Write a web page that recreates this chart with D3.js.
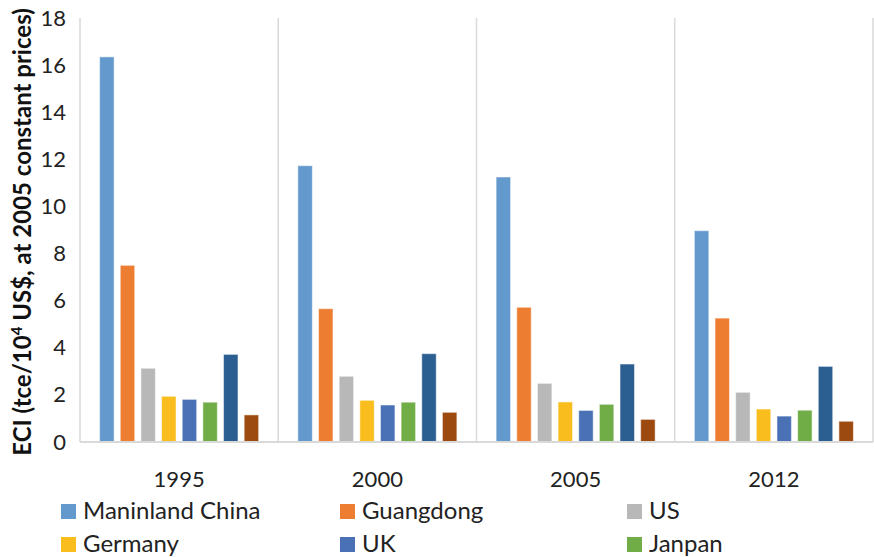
<!DOCTYPE html>
<html>
<head>
<meta charset="utf-8">
<script src="https://cdn.jsdelivr.net/npm/d3@7"></script>
<style>
  html, body { margin: 0; padding: 0; background: #fff; }
  svg { display: block; }
</style>
</head>
<body>
<svg id="chart" width="874" height="557"></svg>
<script>
// Energy consumption intensity by region and year
const years = ["1995", "2000", "2005", "2012"];
const yTicks = [0, 2, 4, 6, 8, 10, 12, 14, 16, 18];

const chinaVals     = [16.35, 11.73, 11.25, 8.97];
const guangdongVals = [7.50, 5.66, 5.72, 5.26];
const usVals        = [3.13, 2.79, 2.49, 2.11];
const germanyVals   = [1.94, 1.77, 1.70, 1.40];
const ukVals        = [1.81, 1.57, 1.34, 1.10];
const japanVals     = [1.69, 1.69, 1.60, 1.35];
const seventhVals   = [3.72, 3.75, 3.31, 3.21];
const eighthVals    = [1.15, 1.26, 0.96, 0.88];

const seriesValues = [chinaVals, guangdongVals, usVals, germanyVals, ukVals, japanVals, seventhVals, eighthVals];
const seriesColors = ["#6399CC", "#ED7D31", "#B8B8B8", "#F9BE1E", "#4A70B6", "#70AD47", "#2C5F91", "#9C4A10"];

// Legend entries in the order they are laid out (row by row, three columns)
const legendLabels = ["Maninland China", "Guangdong", "US", "Germany", "UK", "Janpan"];
const legendColors = ["#6399CC", "#ED7D31", "#B8B8B8", "#F9BE1E", "#4A70B6", "#70AD47"];

const svg = d3.select("#chart");
const font = "Lato, 'Open Sans', sans-serif";

const plot = { left: 80, right: 873, top: 18, bottom: 442 };

const x0 = d3.scaleBand().domain(years).range([plot.left, plot.right]).padding(0);
const x1 = d3.scaleBand()
  .domain(d3.range(seriesValues.length))
  .range([0, x0.bandwidth()])
  .paddingInner(0.3)
  .paddingOuter(0.95);
const y = d3.scaleLinear().domain([0, 18]).range([plot.bottom, plot.top]);

// Category separators
const seps = years.map(d => x0(d)).concat([plot.right]);
svg.append("g").selectAll("line").data(seps).join("line")
  .attr("x1", d => d).attr("x2", d => d)
  .attr("y1", plot.top).attr("y2", plot.bottom)
  .attr("stroke", "#D9D9D9").attr("stroke-width", 1.5);

// Bars
const groups = svg.append("g").selectAll("g").data(years).join("g")
  .attr("transform", d => `translate(${x0(d)},0)`);
groups.selectAll("rect")
  .data((yr, gi) => seriesValues.map((vals, si) => ({ si, v: vals[gi] })))
  .join("rect")
  .attr("x", d => x1(d.si))
  .attr("width", x1.bandwidth())
  .attr("y", d => y(d.v))
  .attr("height", d => y(0) - y(d.v))
  .attr("fill", d => seriesColors[d.si])
  .attr("stroke", "#ffffff").attr("stroke-opacity", 0.5).attr("stroke-width", 1);

// Baseline
svg.append("line")
  .attr("x1", plot.left).attr("x2", plot.right)
  .attr("y1", y(0)).attr("y2", y(0))
  .attr("stroke", "#D9D9D9").attr("stroke-width", 2);

// Y axis labels
const yAxis = d3.axisLeft(y).tickValues(yTicks).tickSize(0).tickPadding(14);
const yg = svg.append("g").attr("transform", `translate(${plot.left},0)`).call(yAxis);
yg.select(".domain").remove();
yg.selectAll("text").attr("font-family", font).attr("font-size", 22).attr("fill", "#222");

// X axis labels
const xAxis = d3.axisBottom(x0).tickSize(0).tickPadding(29);
const xg = svg.append("g").attr("transform", `translate(0,${plot.bottom})`).call(xAxis);
xg.select(".domain").remove();
xg.selectAll("text").attr("font-family", font).attr("font-size", 22).attr("fill", "#222");

// Y axis title
const title = svg.append("text")
  .attr("transform", "translate(31,232) rotate(-90)")
  .attr("text-anchor", "middle")
  .attr("font-family", font).attr("font-size", 24).attr("font-weight", "bold")
  .attr("fill", "#111");
title.append("tspan").text("ECI (tce/10");
title.append("tspan").attr("baseline-shift", "super").attr("font-size", 15).text("4");
title.append("tspan").text(" US$, at 2005 constant prices)");

// Legend
const legendCols = [61, 340, 627];
const legendRows = [504, 537];
const leg = svg.append("g").selectAll("g").data(legendLabels).join("g")
  .attr("transform", (d, i) => `translate(${legendCols[i % 3]},${legendRows[Math.floor(i / 3)]})`);
leg.append("rect").attr("width", 15).attr("height", 15).attr("fill", (d, i) => legendColors[i]);
leg.append("text").attr("x", 22).attr("y", 15)
  .attr("font-family", font).attr("font-size", 24).attr("fill", "#222")
  .text(d => d);
</script>
</body>
</html>
